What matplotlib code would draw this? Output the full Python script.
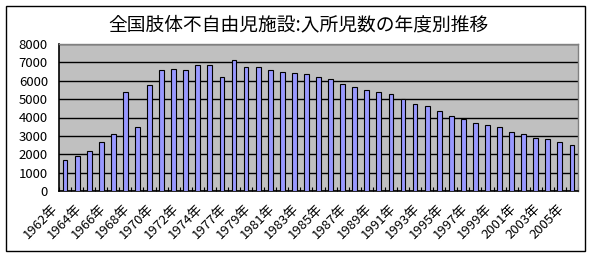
import matplotlib
matplotlib.use("Agg")
import matplotlib.pyplot as plt
from matplotlib.patches import Rectangle
import matplotlib.transforms as mtransforms
import numpy as np

plt.rcParams['font.family'] = ['Noto Sans CJK JP', 'DejaVu Sans']

title = "全国肢体不自由児施設:入所児数の年度別推移"
years = [1962, 1963, 1964, 1965, 1966, 1967, 1968, 1969, 1970, 1971, 1972, 1973, 1974,
         1976, 1977, 1978, 1979, 1980, 1981, 1982, 1983, 1984, 1985, 1986, 1987, 1988,
         1989, 1990, 1991, 1992, 1993, 1994, 1995, 1996, 1997, 1998, 1999, 2000, 2001,
         2002, 2003, 2004, 2005]
values = [1670, 1890, 2180, 2650, 3085, 5370, 3470, 5750, 6570, 6660, 6570, 6860, 6860,
          6190, 7110, 6730, 6730, 6570, 6460, 6400, 6350, 6190, 6080, 5830, 5680, 5480,
          5370, 5260, 4990, 4720, 4610, 4360, 4070, 3940, 3680, 3580, 3470, 3190, 3085,
          2870, 2810, 2650, 2490]
categories = [f"{y}年" for y in years]
yticks = [0, 1000, 2000, 3000, 4000, 5000, 6000, 7000, 8000]

W, H = 596, 256
fig = plt.figure(figsize=(W / 100, H / 100), dpi=100)
fig.patch.set_facecolor('white')
fig.patches.append(Rectangle((6 / W, 1 - 251 / H), (585 - 6) / W, (251 - 6) / H,
                             transform=fig.transFigure, fill=False, edgecolor='black',
                             linewidth=1.0, zorder=0))

ax = fig.add_axes([59 / W, 1 - 191 / H, (578 - 59) / W, (191 - 44) / H])
ax.set_facecolor('#C0C0C0')
x = np.arange(len(values))
ax.bar(x, values, width=0.4, color='#9999FF', edgecolor='black', linewidth=0.8, zorder=3)
ax.set_xlim(-0.5, len(values) - 0.5)
ax.set_ylim(0, 8000)
ax.set_yticks(yticks)
ax.set_yticklabels([str(v) for v in yticks], fontsize=9.5)
ax.yaxis.grid(True, color='black', linewidth=1.0, zorder=1)
ax.set_axisbelow(True)
ax.tick_params(axis='y', length=0, pad=8)

ax.set_xticks(x[::2])
ax.set_xticklabels(categories[::2], rotation=45, ha='right', va='top',
                   rotation_mode='anchor', fontsize=9.5)
ax.set_xticks(np.arange(len(values) + 1) - 0.5, minor=True)
ax.tick_params(axis='x', which='major', length=0, pad=8)
ax.tick_params(axis='x', which='minor', direction='in', length=3, width=0.8, color='black')
shift = mtransforms.ScaledTranslation(-14 / 100, 0, fig.dpi_scale_trans)
for lbl in ax.get_xticklabels():
    lbl.set_transform(lbl.get_transform() + shift)

for s in ['top', 'right']:
    ax.spines[s].set_color('#808080')
    ax.spines[s].set_linewidth(1.0)
for s in ['left', 'bottom']:
    ax.spines[s].set_color('black')
    ax.spines[s].set_linewidth(1.2)

fig.text(298 / W, 1 - 25 / H, title, ha='center', va='center', fontsize=13.5)

fig.savefig('out.png', dpi=100)
